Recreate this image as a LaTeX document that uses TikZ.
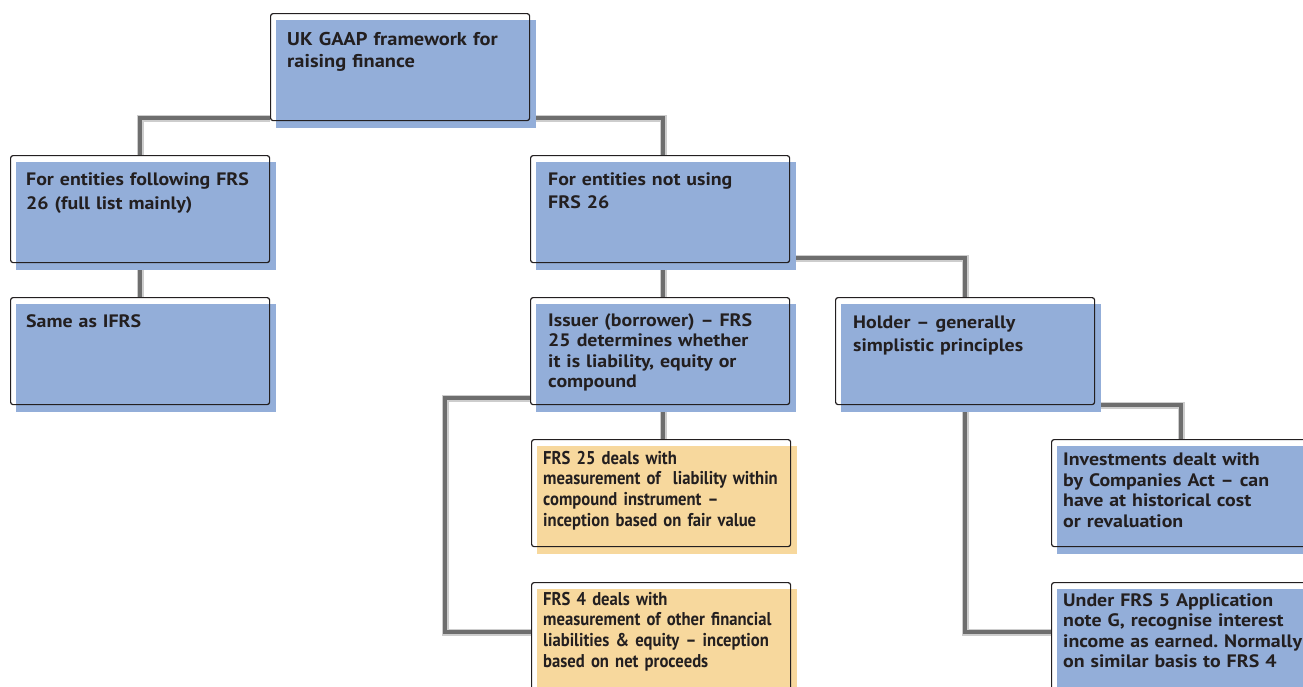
\documentclass[tikz,border=0pt]{standalone}
\usepackage{fontspec}
\setmainfont{PT Sans}
\newfontfamily\panelfont[FakeStretch=1.105]{PT Sans}
\newfontfamily\narrowfont[FakeStretch=0.9]{PT Sans}
\usetikzlibrary{calc}
\frenchspacing

\definecolor{boxblue}{RGB}{147,174,217}
\definecolor{boxsand}{RGB}{247,216,157}
\definecolor{ink}{RGB}{35,31,32}
\definecolor{wire}{RGB}{110,110,110}
\definecolor{wirehalo}{RGB}{205,205,205}

\pgfdeclarelayer{lines}
\pgfdeclarelayer{fills}
\pgfsetlayers{lines,fills,main}

\tikzset{
  panel/.style={draw=ink, line width=1.2pt, rounded corners=2.5pt,
    minimum width=259pt, minimum height=107pt, anchor=north west, inner sep=0pt},
  boxtext/.style={anchor=base west, inner sep=0pt, text width=262pt, align=left,
    text=ink, font=\panelfont\bfseries\fontsize{18}{20.5}\selectfont},
  notetext/.style={boxtext, font=\narrowfont\bfseries\fontsize{18.5}{20.8}\selectfont},
  wirehaze/.style={draw=wirehalo, line width=7pt},
  wireline/.style={draw=wire, line width=4pt},
}

\begin{document}
\begin{tikzpicture}[x=1pt, y=-1pt]
\useasboundingbox (0,0) rectangle (1303,686);

% outlined boxes
\node[panel] (top)      at (270,13)   {};
\node[panel] (fs26)     at (10,155)   {};
\node[panel] (same)     at (10,297)   {};
\node[panel] (notusing) at (530,155)  {};
\node[panel] (issuer)   at (530,297)  {};
\node[panel] (holder)   at (835,297)  {};
\node[panel] (frs25)    at (531,439)  {};
\node[panel] (frs4)     at (531,582)  {};
\node[panel] (invest)   at (1051,439) {};
\node[panel] (frs5)     at (1051,582) {};

% box texts
\node[boxtext, font=\panelfont\bfseries\fontsize{18.5}{22}\selectfont] (top-t)
  at ($(top.north west)+(17,32)$)
  {UK GAAP framework for\\raising finance};
\node[boxtext, font=\panelfont\bfseries\fontsize{18}{23.5}\selectfont] (fs26-t)
  at ($(fs26.north west)+(16,30.5)$)
  {For entities following FRS\\26 (full list mainly)};
\node[boxtext] (same-t) at ($(same.north west)+(16,30.5)$)
  {Same as IFRS};
\node[boxtext, font=\panelfont\bfseries\fontsize{18}{23}\selectfont] (notusing-t)
  at ($(notusing.north west)+(18,30.5)$)
  {For entities not using\\FRS 26};
\node[boxtext] (issuer-t) at ($(issuer.north west)+(18,29)$)
  {Issuer (borrower) – FRS\\25 determines whether\\it is liability, equity or\\compound};
\node[boxtext, font=\panelfont\bfseries\fontsize{18}{23}\selectfont] (holder-t)
  at ($(holder.north west)+(18,31)$)
  {Holder – generally\\simplistic principles};
\node[notetext] (frs25-t) at ($(frs25.north west)+(12,25)$)
  {FRS 25 deals with\\measurement of\ \ liability within\\compound instrument –\\inception based on fair value};
\node[notetext] (frs4-t) at ($(frs4.north west)+(12,23)$)
  {FRS 4 deals with\\measurement of other financial\\liabilities \& equity – inception\\based on net proceeds};
\node[boxtext] (invest-t) at ($(invest.north west)+(12,26.5)$)
  {Investments dealt with\\by Companies Act – can\\have at historical cost\\or revaluation};
\node[boxtext] (frs5-t) at ($(frs5.north west)+(12,24)$)
  {Under FRS 5 Application\\note G, recognise interest\\income as earned. Normally\\on similar basis to FRS 4};

% colour panels, offset behind the outlines
\begin{pgfonlayer}{fills}
\foreach \n/\c in {top/boxblue, fs26/boxblue, same/boxblue, notusing/boxblue,
                   issuer/boxblue, holder/boxblue, frs25/boxsand, frs4/boxsand,
                   invest/boxblue, frs5/boxblue}
  \fill[\c] ($(\n.north west)+(6,7)$) rectangle ($(\n.south east)+(6,7)$);
\end{pgfonlayer}

% connectors
\begin{pgfonlayer}{lines}
\foreach \s in {wirehaze, wireline} {
  \draw[\s] ($(top.south west)+(0,-3)$) -| (fs26.north);
  \draw[\s] ($(top.south east)+(6,-3)$) -| ($(notusing.north)+(3,0)$);
  \draw[\s] (fs26.south) -- (same.north);
  \draw[\s] ($(notusing.south)+(3,0)$) -- ($(issuer.north)+(3,0)$);
  \draw[\s] ($(notusing.south east)+(6,-5)$) -| (holder.north);
  \draw[\s] ($(issuer.south)+(3,0)$) -- ($(frs25.north)+(2,0)$);
  \draw[\s] ($(issuer.south west)+(0,-7)$) -- ++(-85,0) |- ($(frs4.north west)+(0,50)$);
  \draw[\s] ($(holder.south east)+(6,0)$) -| (invest.north);
  \draw[\s] (holder.south) |- ($(frs5.north west)+(0,50)$);
}
\end{pgfonlayer}
\end{tikzpicture}
\end{document}
